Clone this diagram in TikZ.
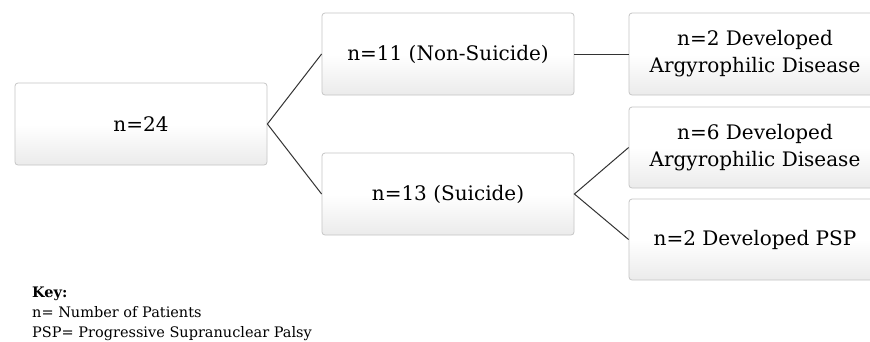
\documentclass[tikz,border=0pt]{standalone}
\usepackage{fontspec}
\setmainfont{DejaVu Serif}
\usepackage{tikz}
\usetikzlibrary{positioning}

\tikzset{
  card/.style={draw=gray!45,line width=0.8pt,rounded corners=3pt,
    top color=white,bottom color=gray!16,middle color=white,
    minimum width=252pt,minimum height=82pt,align=center,
    font=\fontsize{20}{27}\selectfont},
  link/.style={line width=1pt,black!80}
}

\begin{document}
\begin{tikzpicture}[x=1pt,y=-1pt]
\clip (0,0) rectangle (870,341);
\fill[white] (0,0) rectangle (870,341);
% tree
\node[card] (all) at (141,124) {n=24};
\node[card] (nonsuicide) at (448,54) {n=11 (Non-Suicide)};
\node[card] (suicide) at (448,194) {n=13 (Suicide)};
\node[card] (argA) at (755,54) {n=2 Developed\\Argyrophilic Disease};
\node[card,minimum height=81pt] (argB) at (755,147.5) {n=6 Developed\\Argyrophilic Disease};
\node[card,minimum height=81pt] (psp) at (755,239.5) {n=2 Developed PSP};
\draw[link] (nonsuicide.west) -- (all.east) -- (suicide.west);
\draw[link] (nonsuicide.east) -- (argA.west);
\draw[link] (argB.west) -- (suicide.east) -- (psp.west);
% key
\node[anchor=north west,align=left,inner sep=0pt,
  font=\fontsize{14.5}{20}\selectfont] (key) at (32,287)
  {\textbf{Key:}\\n= Number of Patients\\PSP= Progressive Supranuclear Palsy};
\end{tikzpicture}
\end{document}
